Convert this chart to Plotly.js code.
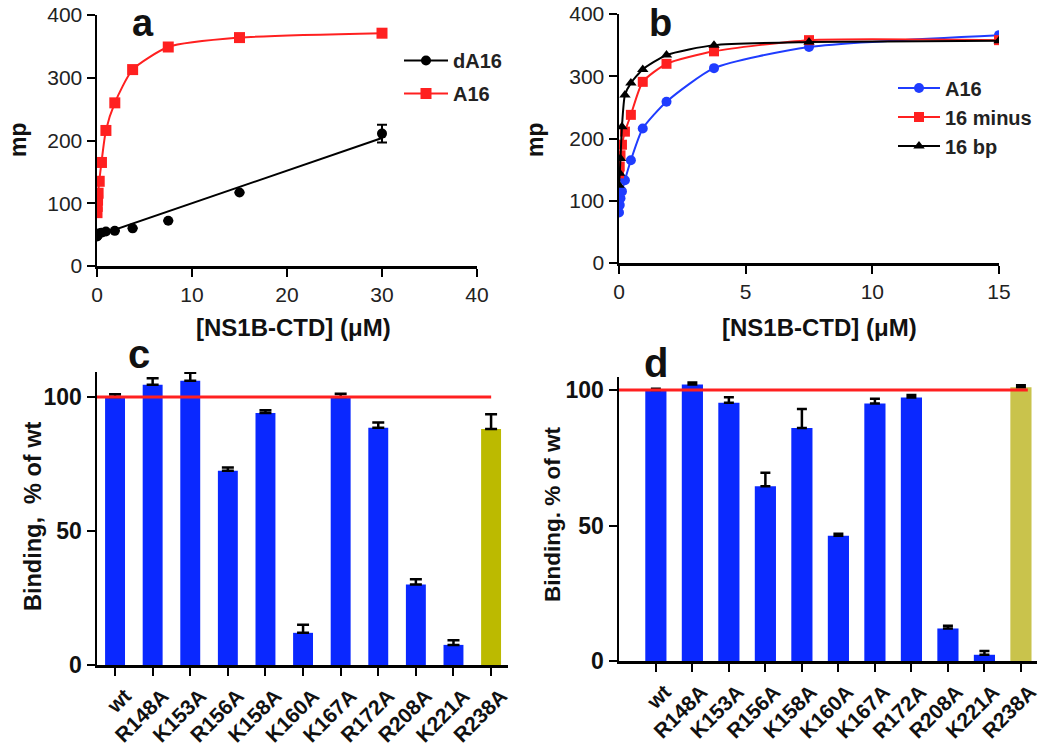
<!DOCTYPE html>
<html>
<head>
<meta charset="utf-8">
<script src="https://cdn.plot.ly/plotly-3.0.1.min.js"></script>
<style>html,body{margin:0;padding:0;background:#fff;}#chart{width:1050px;height:751px;}</style>
</head>
<body>
<div id="chart"></div>
<script>
// ---------- Data ----------
// Panel a: concentrations (µM) and mP values
const concA = [0, 0.029, 0.059, 0.117, 0.234, 0.469, 0.9375, 1.875, 3.75, 7.5, 15, 30];
const dA16_a = [47, 48, 50, 51, 52, 53, 55, 56, 60, 72, 117, 211];
const dA16_a_err = [0, 0, 0, 0, 0, 0, 0, 0, 0, 0, 0, 14];
const A16_a = [85, 95, 105, 116, 135, 165, 216, 260, 313, 349, 364, 371];
// linear fit of dA16 (end points)
const dA16_fitX = [0, 30];
const dA16_fitY = [48, 204];

// Panel b
const concB = [0, 0.029, 0.059, 0.117, 0.234, 0.469, 0.9375, 1.875, 3.75, 7.5, 15];
const A16_b = [81, 93, 104, 115, 133, 165, 216, 259, 313, 347, 366];
const minus16_b = [144, 155, 173, 190, 211, 238, 291, 320, 340, 358, 358];
const bp16_b = [125, 144, 168, 219, 270, 289, 311, 334, 350, 355, 357];

// Panels c and d: mutant binding, % of wt
const mutants = ['wt', 'R148A', 'K153A', 'R156A', 'K158A', 'K160A', 'K167A', 'R172A', 'R208A', 'K221A', 'R238A'];
const bindC = [100, 104.5, 106, 72.5, 94, 12, 100, 88.5, 30, 7.5, 88];
const errC = [1, 2.5, 3, 1.2, 1, 3, 1.2, 2, 2, 1.7, 5.5];
const bindD = [100, 102, 95.3, 64.5, 86, 46.2, 95, 97.2, 12, 2.3, 101];
const errD = [0.5, 0.8, 2, 5, 7, 0.8, 1.8, 1, 1, 1.4, 0.8];
const refLevel = 100;

// ---------- Styles ----------
const FONT = 'Liberation Sans, Arial, Helvetica, sans-serif';
const RED = '#ff2020';
const BLUE = '#1f3cff';
const BAR_BLUE = '#0a28ff';
const OLIVE_C = '#bcba00';
const OLIVE_D = '#c9c34c';

const zeros = n => new Array(n).fill(0);

const traces = [
  // ----- panel a -----
  {x: dA16_fitX, y: dA16_fitY, xaxis: 'x', yaxis: 'y', mode: 'lines', line: {color: '#000', width: 2}, showlegend: false, hoverinfo: 'skip'},
  {x: concA, y: dA16_a, xaxis: 'x', yaxis: 'y', mode: 'markers', marker: {symbol: 'circle', size: 10, color: '#000'},
   error_y: {type: 'data', array: dA16_a_err, color: '#000', thickness: 2, width: 5}, showlegend: false},
  {x: [null], y: [null], xaxis: 'x', yaxis: 'y', mode: 'lines+markers', name: 'dA16', legend: 'legend', legendgroup: 'a1',
   line: {color: '#000', width: 2}, marker: {symbol: 'circle', size: 10, color: '#000'}},
  {x: concA, y: A16_a, xaxis: 'x', yaxis: 'y', mode: 'lines+markers', name: 'A16', legend: 'legend', legendgroup: 'a2',
   line: {color: RED, width: 2, shape: 'spline', smoothing: 0.6}, marker: {symbol: 'square', size: 11, color: RED}},
  // ----- panel b -----
  {x: concB, y: A16_b, xaxis: 'x2', yaxis: 'y2', mode: 'lines+markers', name: 'A16', legend: 'legend2', legendgroup: 'b1',
   line: {color: BLUE, width: 2, shape: 'spline', smoothing: 0.6}, marker: {symbol: 'circle', size: 10, color: BLUE}},
  {x: concB, y: minus16_b, xaxis: 'x2', yaxis: 'y2', mode: 'lines+markers', name: '16 minus', legend: 'legend2', legendgroup: 'b2',
   line: {color: RED, width: 2, shape: 'spline', smoothing: 0.6}, marker: {symbol: 'square', size: 10, color: RED}},
  {x: concB, y: bp16_b, xaxis: 'x2', yaxis: 'y2', mode: 'lines+markers', name: '16 bp', legend: 'legend2', legendgroup: 'b3',
   line: {color: '#000', width: 2, shape: 'spline', smoothing: 0.6}, marker: {symbol: 'triangle-up', size: 10, color: '#000'}},
  // ----- panel c -----
  {type: 'bar', x: mutants, y: bindC, xaxis: 'x3', yaxis: 'y3', width: 0.53, showlegend: false,
   marker: {color: mutants.map(m => m === 'R238A' ? OLIVE_C : BAR_BLUE)},
   error_y: {type: 'data', symmetric: false, array: errC, arrayminus: zeros(errC.length), color: '#000', thickness: 2.5, width: 6}},
  // ----- panel d -----
  {type: 'bar', x: mutants, y: bindD, xaxis: 'x4', yaxis: 'y4', width: 0.58, showlegend: false,
   marker: {color: mutants.map(m => m === 'R238A' ? OLIVE_D : BAR_BLUE)},
   error_y: {type: 'data', symmetric: false, array: errD, arrayminus: zeros(errD.length), color: '#000', thickness: 2.5, width: 5}}
];

const W = 1050, H = 751;
const px = v => v / W;
const py = v => 1 - v / H;

const axisBase = {
  showgrid: false, zeroline: false, showline: true, linecolor: '#000', linewidth: 2.5,
  ticks: 'outside', ticklen: 8, tickwidth: 2, tickcolor: '#000', automargin: false,
  tickfont: {family: FONT, size: 21, color: '#222'}
};
const barTickX = {family: FONT, size: 21, color: '#111', weight: 'bold'};
const barTickY = {family: FONT, size: 23, color: '#111', weight: 'bold'};

function label(text, x, y, size, angle, yanchor) {
  return {text: text, x: px(x), y: (yanchor === 'top' ? 1 : py(y)), xref: 'paper', yref: 'paper', xanchor: 'center', yanchor: yanchor || 'middle',
          showarrow: false, textangle: angle || 0, font: {family: FONT, size: size, weight: 'bold', color: '#111'}};
}

const layout = {
  width: W, height: H,
  margin: {l: 0, r: 0, t: 0, b: 0},
  paper_bgcolor: '#fff', plot_bgcolor: 'rgba(0,0,0,0)',
  font: {family: FONT, color: '#000'},
  xaxis: Object.assign({}, axisBase, {domain: [px(97), px(477)], range: [0, 40], tickvals: [0, 10, 20, 30, 40], anchor: 'y'}),
  yaxis: Object.assign({}, axisBase, {domain: [py(266), py(15)], range: [0, 400], tickvals: [0, 100, 200, 300, 400], anchor: 'x'}),
  xaxis2: Object.assign({}, axisBase, {domain: [px(619), px(999)], range: [0, 15], tickvals: [0, 5, 10, 15], anchor: 'y2'}),
  yaxis2: Object.assign({}, axisBase, {domain: [py(263), py(14)], range: [0, 400], tickvals: [0, 100, 200, 300, 400], anchor: 'x2'}),
  xaxis3: Object.assign({}, axisBase, {domain: [px(97), px(508)], range: [-0.48, 10.45], type: 'category', tickangle: -45, tickfont: barTickX,
                                       ticklabelshift: 10, anchor: 'y3'}),
  yaxis3: Object.assign({}, axisBase, {domain: [py(665), py(372)], range: [0, 109.3], tickvals: [0, 50, 100], tickfont: barTickY, anchor: 'x3'}),
  xaxis4: Object.assign({}, axisBase, {domain: [px(619), px(1037)], range: [-1.01, 10.44], type: 'category', tickangle: -45, tickfont: barTickX,
                                       ticklabelshift: 9, anchor: 'y4'}),
  yaxis4: Object.assign({}, axisBase, {domain: [py(661), py(377)], range: [0, 104.8], tickvals: [0, 50, 100], tickfont: barTickY, anchor: 'x4'}),
  legend: {x: px(399), y: py(77), xanchor: 'left', yanchor: 'middle', bgcolor: 'rgba(0,0,0,0)',
           font: {family: FONT, size: 20, color: '#222', weight: 'bold'}, traceorder: 'grouped', tracegroupgap: 4, itemwidth: 44},
  legend2: {x: px(893), y: py(117), xanchor: 'left', yanchor: 'middle', bgcolor: 'rgba(0,0,0,0)',
           font: {family: FONT, size: 20, color: '#222', weight: 'bold'}, traceorder: 'grouped', tracegroupgap: 0, itemwidth: 42},
  shapes: [
    {type: 'line', xref: 'x3 domain', yref: 'y3', x0: 0, x1: 0.959, y0: refLevel, y1: refLevel, line: {color: RED, width: 3}},
    {type: 'line', xref: 'x4 domain', yref: 'y4', x0: 0, x1: 0.978, y0: refLevel, y1: refLevel, line: {color: RED, width: 3}}
  ],
  annotations: [
    label('a', 143, 0, 38, 0, 'top'),
    label('b', 660, 0, 38, 0, 'top'),
    label('c', 139, 354, 40),
    label('d', 656, 363, 40),
    label('[NS1B-CTD] (μM)', 293, 327, 24),
    label('[NS1B-CTD] (μM)', 819, 327, 24),
    label('mp', 18, 140, 23, -90),
    label('mp', 535, 140, 23, -90),
    label('Binding,  % of wt', 33, 517, 23.5, -90),
    label('Binding. % of wt', 552, 515, 22.5, -90)
  ]
};

Plotly.newPlot('chart', traces, layout, {displayModeBar: false, staticPlot: true});
</script>
</body>
</html>
